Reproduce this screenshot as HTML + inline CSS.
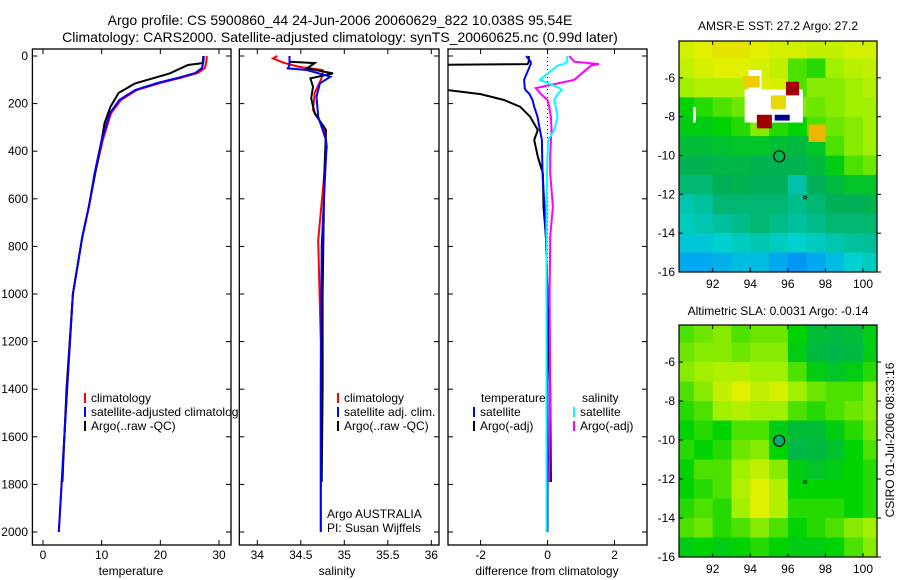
<!DOCTYPE html>
<html><head><meta charset="utf-8"><style>
body{margin:0;background:#fff;}
svg{display:block;font-family:"Liberation Sans",sans-serif;}
text{fill:#000;}
</style></head><body>
<svg id="fig" width="900" height="580" viewBox="0 0 900 580">
<text x="340" y="25" font-size="14" text-anchor="middle">Argo profile: CS 5900860_44 24-Jun-2006 20060629_822 10.038S 95.54E</text>
<text x="340" y="42" font-size="14" text-anchor="middle">Climatology: CARS2000. Satellite-adjusted climatology: synTS_20060625.nc (0.99d later)</text>
<text x="778" y="30" font-size="12" text-anchor="middle">AMSR-E SST: 27.2 Argo: 27.2</text>
<text x="778" y="315" font-size="12" text-anchor="middle">Altimetric SLA: 0.0031 Argo: -0.14</text>
<text x="0" y="0" font-size="12" text-anchor="middle" transform="translate(894,440) rotate(-90)">CSIRO 01-Jul-2006 08:33:16</text>
</svg>
<script>
// ---- profile data ----
const depthT = [0,10,30,50,71,92,113,143,185,240,353,492,634,760,1000,1400,2000];
const tempClim = [27.9,27.9,27.8,27.6,26.4,23.4,20.0,16.0,13.3,11.6,10.2,8.9,7.8,6.7,5.1,4.1,2.7];
const tempSat  = [27.4,27.4,27.3,27.1,26.0,23.0,19.6,15.7,13.0,11.4,10.0,8.8,7.8,6.7,5.1,4.1,2.7];
const depthA = [0,10,30,38,73,115,155,213,281,353,492,634,760,1000,1400,1790];
const tempArgo = [27.3,27.3,27.2,24.7,21.6,15.7,12.9,11.5,10.5,10.0,8.9,7.8,6.7,5.1,4.0,3.3];

const depthS = [0,10,28,46,59,80,101,155,227,269,325,381,773,1200,2000];
const salClim = [34.23,34.18,34.30,34.48,34.75,34.75,34.73,34.66,34.64,34.71,34.78,34.80,34.70,34.73,34.73];
const depthSS = [0,38,52,59,87,115,171,255,353,423,800,1400,2000];
const salSat = [34.37,34.37,34.35,34.57,34.84,34.72,34.68,34.70,34.79,34.79,34.74,34.73,34.73];
const depthSA = [0,24,30,52,73,94,129,178,241,311,500,1000,1400,1790];
const salArgo = [34.37,34.37,34.66,34.57,34.87,34.61,34.64,34.62,34.66,34.79,34.77,34.75,34.75,34.74];

const depthD = [0,24,34,40,100,135,143,160,185,213,255,311,353,423,493,633,759,1000,1400,1790,2000];
const dTempArgo = [-0.56,-0.56,-0.6,-6,-6,-6,-3.0,-2.0,-1.3,-0.82,-0.52,-0.29,-0.4,-0.29,-0.14,-0.12,-0.05,0.0,0.08,0.1,null];
const dTempSat  = [-0.64,-0.5,-0.5,-0.52,-0.7,-0.68,-0.66,-0.54,-0.45,-0.4,-0.3,-0.23,-0.17,-0.16,-0.15,-0.09,-0.05,0.0,0.0,0.0,0.0];
const dSalSat   = [0.59,0.59,0.48,0.3,-0.23,0.36,0.42,0.3,0.2,0.24,0.3,0.2,0.02,0.0,-0.02,-0.03,-0.03,-0.03,-0.03,-0.03,-0.03];
const dSalArgo  = [0.65,0.8,1.54,1.3,0.8,-0.35,-0.3,-0.2,0.0,0.05,0.1,0.12,0.1,0.08,0.08,0.16,0.08,0.06,0.08,0.05,null];

const tempTicks=[0,10,20,30], salTicks=[34,34.5,35,35.5,36], diffTicks=[-2,0,2];
const depthTicks=[0,200,400,600,800,1000,1200,1400,1600,1800,2000];

// ---- map data (1-degree cells, lat -4.5..-15.5, lon 90.5..100.5), normalised colour index ----
const mapLons=[90.5,91.5,92.5,93.5,94.5,95.5,96.5,97.5,98.5,99.5,100.5];
const mapLats=[-4.5,-5.5,-6.5,-7.5,-8.5,-9.5,-10.5,-11.5,-12.5,-13.5,-14.5,-15.5];
const sstGrid=[
[.78,.8,.82,.82,.8,.78,.78,.76,.76,.78,.78],
[.76,.78,.8,.8,.78,.76,.66,.64,.72,.75,.76],
[.72,.74,.74,.74,.8,.78,.66,.7,.7,.72,.74],
[.62,.64,.66,.68,.7,.75,.7,.68,.7,.72,.72],
[.6,.6,.62,.64,.7,.64,.62,.66,.68,.7,.72],
[.56,.56,.57,.58,.58,.56,.55,.58,.66,.7,.72],
[.53,.53,.54,.54,.53,.53,.53,.55,.6,.66,.68],
[.5,.5,.52,.53,.52,.52,.45,.52,.55,.58,.58],
[.44,.46,.5,.5,.5,.5,.48,.5,.52,.52,.53],
[.42,.44,.46,.48,.5,.48,.46,.48,.5,.5,.5],
[.38,.38,.4,.42,.44,.42,.4,.42,.44,.46,.47],
[.32,.32,.34,.36,.36,.32,.3,.32,.36,.4,.42]];
// anomaly patches: lon0, lat0, lon1, lat1, value (-1 = missing/white)
const sstPatchLon0=[93.7,93.9,90.95,93.6,94.35,95.3,95.9,97.35,97.1,95.1];
const sstPatchLat0=[-6.6,-5.6,-7.5,-5.9,-7.9,-7.9,-6.2,-8.6,-8.4,-6.9];
const sstPatchLon1=[96.8,94.6,91.1,94.5,95.15,96.1,96.6,97.9,98.0,95.9];
const sstPatchLat1=[-8.3,-6.6,-8.3,-6.5,-8.6,-8.2,-6.9,-8.9,-9.3,-7.6];
const sstPatchVal=[-1,-1,-1,.86,1,0,1,1,.88,.84];
const slaGrid=[
[.66,.68,.7,.66,.68,.68,.62,.56,.55,.56,.6],
[.68,.7,.7,.68,.7,.7,.6,.55,.54,.55,.6],
[.7,.72,.74,.74,.72,.72,.66,.6,.58,.6,.64],
[.66,.7,.76,.8,.76,.78,.72,.68,.66,.66,.7],
[.64,.66,.72,.74,.72,.72,.66,.64,.66,.68,.7],
[.62,.64,.62,.66,.66,.6,.56,.56,.6,.64,.68],
[.64,.62,.64,.68,.7,.62,.54,.55,.57,.62,.66],
[.62,.66,.66,.72,.76,.7,.6,.58,.6,.62,.64],
[.62,.64,.66,.74,.8,.74,.62,.62,.62,.62,.64],
[.64,.66,.64,.72,.8,.74,.64,.64,.64,.62,.64],
[.66,.68,.64,.66,.7,.66,.62,.64,.66,.7,.72],
[.6,.62,.6,.62,.64,.62,.6,.6,.62,.66,.7]];
const lonTicks=[92,94,96,98,100], latTicks=[-6,-8,-10,-12,-14,-16];
const floatLon=95.54, floatLat=-10.04;

const NS="http://www.w3.org/2000/svg";
const svg=document.getElementById('fig');
function mk(tag,attrs,parent){const e=document.createElementNS(NS,tag);for(const k in attrs)e.setAttribute(k,attrs[k]);(parent||svg).appendChild(e);return e;}
function txt(x,y,s,size,anchor,parent){const t=mk('text',{x:x,y:y,'font-size':size,'text-anchor':anchor||'start'},parent);t.textContent=s;return t;}
function lin(d0,d1,p0,p1){return v=>p0+(v-d0)*(p1-p0)/(d1-d0);}

const yD=lin(0,2000,56,532);
const TOP=49,BOT=545;
const panels=[
 {name:'temperature',x0:32.4,x1:231,sx:lin(0,30,43,219),ticks:tempTicks,label:'temperature',lx:131,fmt:v=>String(v)},
 {name:'salinity',x0:239.3,x1:439,sx:lin(34,36,257.3,431.3),ticks:salTicks,label:'salinity',lx:337,fmt:v=>String(v)},
 {name:'difference',x0:448,x1:647,sx:lin(-2,2,480.6,614.5),ticks:diffTicks,label:'difference from climatology',lx:547,fmt:v=>String(v)}
];
panels.forEach((p,i)=>{
 const g=mk('g',{});
 
 
 const cp=mk('clipPath',{id:'clip'+i},g);mk('rect',{x:p.x0,y:TOP,width:p.x1-p.x0,height:BOT-TOP},cp);
 const fr=mk('rect',{x:p.x0,y:TOP,width:p.x1-p.x0,height:BOT-TOP,fill:'#fff',stroke:'#000','stroke-width':1.3},g);
 
 
 p.ticks.forEach(v=>{const x=p.sx(v);mk('line',{x1:x,y1:BOT,x2:x,y2:BOT-5,stroke:'#000'},g);mk('line',{x1:x,y1:TOP,x2:x,y2:TOP+5,stroke:'#000'},g);
  const t=txt(x,559,p.fmt(v),12,'middle',g);
  
  });
 depthTicks.forEach(v=>{const y=yD(v);mk('line',{x1:p.x0,y1:y,x2:p.x0+5,y2:y,stroke:'#000'},g);mk('line',{x1:p.x1,y1:y,x2:p.x1-5,y2:y,stroke:'#000'},g);
  if(i===0){const t=txt(28,y+4,String(v),12,'end',g);
   
   }});
 const xl=txt(p.lx,575,p.label,12,'middle',g);
 
 
 p.g=g;
});
function series(pi,depths,vals,color,name,dash){
 const p=panels[pi];let d='';let pen=false;
 depths.forEach((dp,k)=>{const v=vals[k];if(v===null||v===undefined){pen=false;return;}d+=(pen?'L':'M')+p.sx(v).toFixed(1)+','+yD(dp).toFixed(1);pen=true;});
 const e=mk('path',{d:d,fill:'none',stroke:color,'stroke-width':2,'clip-path':'url(#clip'+pi+')'},p.g);
 if(dash)e.setAttribute('stroke-dasharray',dash);
 
 
}
(function(){const p=panels[2];const e=mk('line',{x1:p.sx(0),y1:TOP,x2:p.sx(0),y2:yD(2000),stroke:'#000','stroke-width':1,'stroke-dasharray':'1,3'},p.g);
 
 })();
series(0,depthT,tempClim,'#f00','temp-climatology-line');
series(0,depthA,tempArgo,'#000','temp-argo-line');
series(0,depthT,tempSat,'#00f','temp-satellite-line');
series(1,depthS,salClim,'#f00','sal-climatology-line');
series(1,depthSA,salArgo,'#000','sal-argo-line');
series(1,depthSS,salSat,'#00f','sal-satellite-line');
series(2,depthD,dTempArgo,'#000','diff-temp-argo-line');
series(2,depthD,dTempSat,'#00f','diff-temp-satellite-line');
series(2,depthD,dSalArgo,'#f0f','diff-sal-argo-line');
series(2,depthD,dSalSat,'#0ff','diff-sal-satellite-line');

function legend(g,x,y,color,label){
 const m=mk('line',{x1:x,y1:y-9,x2:x,y2:y+1,stroke:color,'stroke-width':2},g);
 
 
 const t=txt(x+6,y,label,12,'start',g);
 
 
}
legend(panels[0].g,85,402,'#f00','climatology');
legend(panels[0].g,85,416,'#00f','satellite-adjusted climatology');
legend(panels[0].g,85,430,'#000','Argo(..raw -QC)');
legend(panels[1].g,338,402,'#f00','climatology');
legend(panels[1].g,338,416,'#00f','satellite adj. clim.');
legend(panels[1].g,338,430,'#000','Argo(..raw -QC)');
(function(){const g=panels[2].g;const t=txt(481,402,'temperature',12,'start',g);
 
 
 const s=txt(582,402,'salinity',12,'start',g);
 
 })();
legend(panels[2].g,474,416,'#00f','satellite');
legend(panels[2].g,474,430,'#000','Argo(-adj)');
legend(panels[2].g,574,416,'#0ff','satellite');
legend(panels[2].g,574,430,'#f0f','Argo(-adj)');
(function(){const g=panels[1].g;const a=txt(327,518,'Argo AUSTRALIA',12,'start',g);
 
 
 const b=txt(327,532,'PI: Susan Wijffels',12,'start',g);
 
 })();

// ---- maps ----
const stops=[[0,[0,0,144]],[.2,[0,64,255]],[.32,[0,168,240]],[.4,[0,208,208]],[.47,[0,190,150]],[.52,[0,176,88]],[.58,[0,196,40]],[.62,[0,212,0]],[.67,[96,228,0]],[.72,[160,240,0]],[.8,[226,240,0]],[.87,[240,200,0]],[.93,[224,96,0]],[1,[160,0,0]]];
function cmap(v){if(v<0)return '#fff';for(let i=1;i<stops.length;i++){if(v<=stops[i][0]){const a=stops[i-1],b=stops[i],f=(v-a[0])/(b[0]-a[0]);return 'rgb('+a[1].map((c,j)=>Math.round(c+(b[1][j]-c)*f)).join(',')+')';}}return 'rgb(160,0,0)';}
function drawMap(key,y0,y1,grid,pl0,pla0,pl1,pla1,pv,showFilled){
 const x0=679,x1=877;
 const sx=lin(92,100,712.7,863),sy=lin(-6,-16,y0+(y1-y0)*((-4.1+6)/(-4.1+16)),y1);
 const g=mk('g',{});
 
 
 const cp=mk('clipPath',{id:'clip'+key},g);mk('rect',{x:x0,y:y0,width:x1-x0,height:y1-y0},cp);
 const cg=mk('g',{'clip-path':'url(#clip'+key+')'},g);
 grid.forEach((row,r)=>row.forEach((v,c)=>{
  const lo=mapLons[c],la=mapLats[r];
  const e=mk('rect',{x:sx(lo-0.5),y:sy(la+0.5),width:sx(lo+0.5)-sx(lo-0.5)+0.6,height:sy(la-0.5)-sy(la+0.5)+0.6,fill:cmap(v)},cg);
  
  
 }));
 if(pl0)pl0.forEach((l,k)=>{
  const e=mk('rect',{x:sx(l),y:sy(pla0[k]),width:sx(pl1[k])-sx(l),height:sy(pla1[k])-sy(pla0[k]),fill:cmap(pv[k])},cg);
  
  
 });
 const fr=mk('rect',{x:x0,y:y0,width:x1-x0,height:y1-y0,fill:'none',stroke:'#000','stroke-width':1.2},g);
 
 
 lonTicks.forEach(v=>{const x=sx(v);mk('line',{x1:x,y1:y1,x2:x,y2:y1-4,stroke:'#000'},g);mk('line',{x1:x,y1:y0,x2:x,y2:y0+4,stroke:'#000'},g);
  const t=txt(x,y1+16,String(v),12,'middle',g);
  
  });
 latTicks.forEach(v=>{const y=sy(v);mk('line',{x1:x0,y1:y,x2:x0+4,y2:y,stroke:'#000'},g);mk('line',{x1:x1,y1:y,x2:x1+4,y2:y,stroke:'#000'},g);
  const t=txt(x0-4,y+4,String(v),12,'end',g);
  
  });
 const c=mk('circle',{cx:sx(floatLon),cy:sy(floatLat),r:5.5,fill:showFilled?'#00b070':'none',stroke:'#000','stroke-width':1.2},g);
 
 
 const m=mk('rect',{x:sx(96.85),y:sy(-12.1),width:2.5,height:2.5,fill:'none',stroke:'#000','stroke-width':0.8},g);
 
 
}
drawMap('sst',41,272,sstGrid,sstPatchLon0,sstPatchLat0,sstPatchLon1,sstPatchLat1,sstPatchVal,false);
drawMap('sla',325,557,slaGrid,null,null,null,null,null,true);
</script>
</body></html>
